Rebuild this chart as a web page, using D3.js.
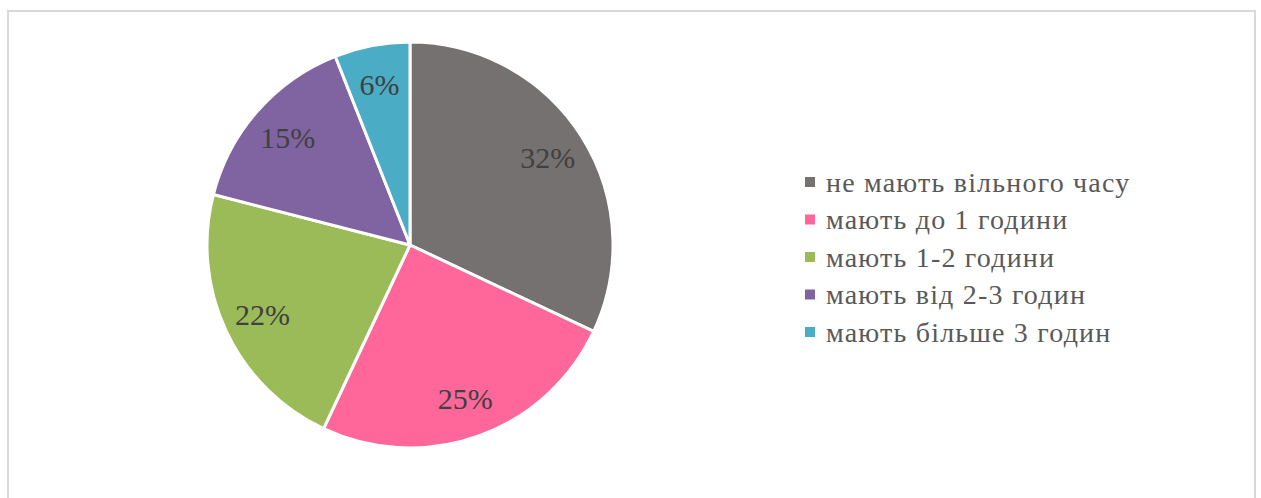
<!DOCTYPE html>
<html><head><meta charset="utf-8">
<script src="https://cdn.jsdelivr.net/npm/d3@7/dist/d3.min.js"></script>
<style>body{margin:0;background:#fff}svg{display:block}
text{font-family:"Liberation Serif","Times New Roman",serif}</style>
</head><body>
<svg id="c" width="1261" height="498"></svg>
<script>
const categories = ["не мають вільного часу","мають до 1 години","мають 1-2 години","мають від 2-3 годин","мають більше 3 годин"];
const values = [32, 25, 22, 15, 6];
const labels = ["32%","25%","22%","15%","6%"];
const colors = ["#767171","#FF6699","#9BBB59","#8064A2","#4BACC6"];

const svg = d3.select("#c");
svg.append("rect").attr("x",8).attr("y",11).attr("width",1247).attr("height",500)
  .attr("fill","#fff").attr("stroke","#d9d9d9").attr("stroke-width",2);

const cx = 410, cy = 245, R = 203;
const pie = d3.pie().sort(null).value(d=>d)(values);
const arc = d3.arc().innerRadius(0).outerRadius(R);
const labArc = d3.arc().innerRadius(163).outerRadius(163);
const g = svg.append("g").attr("transform",`translate(${cx},${cy})`);
g.selectAll("path").data(pie).join("path")
  .attr("d",arc).attr("fill",(d,i)=>colors[i]).attr("stroke","#fff").attr("stroke-width",3);
g.selectAll("text").data(pie).join("text")
  .attr("transform",d=>`translate(${labArc.centroid(d)})`)
  .attr("text-anchor","middle").attr("dy","0.35em")
  .attr("font-size",30)
  .attr("fill","#404040").text((d,i)=>labels[i]);

const y = d3.scalePoint().domain(categories).range([182,332]);
const lg = svg.append("g");
categories.forEach((c,i)=>{
  lg.append("rect").attr("x",805).attr("y",y(c)-5).attr("width",10).attr("height",10).attr("fill",colors[i]);
  lg.append("text").attr("x",826).attr("y",y(c)).attr("dy","0.35em")
    .attr("font-size",28).attr("letter-spacing",1.2)
    .attr("fill","#595959").text(c);
});
</script>
</body></html>
